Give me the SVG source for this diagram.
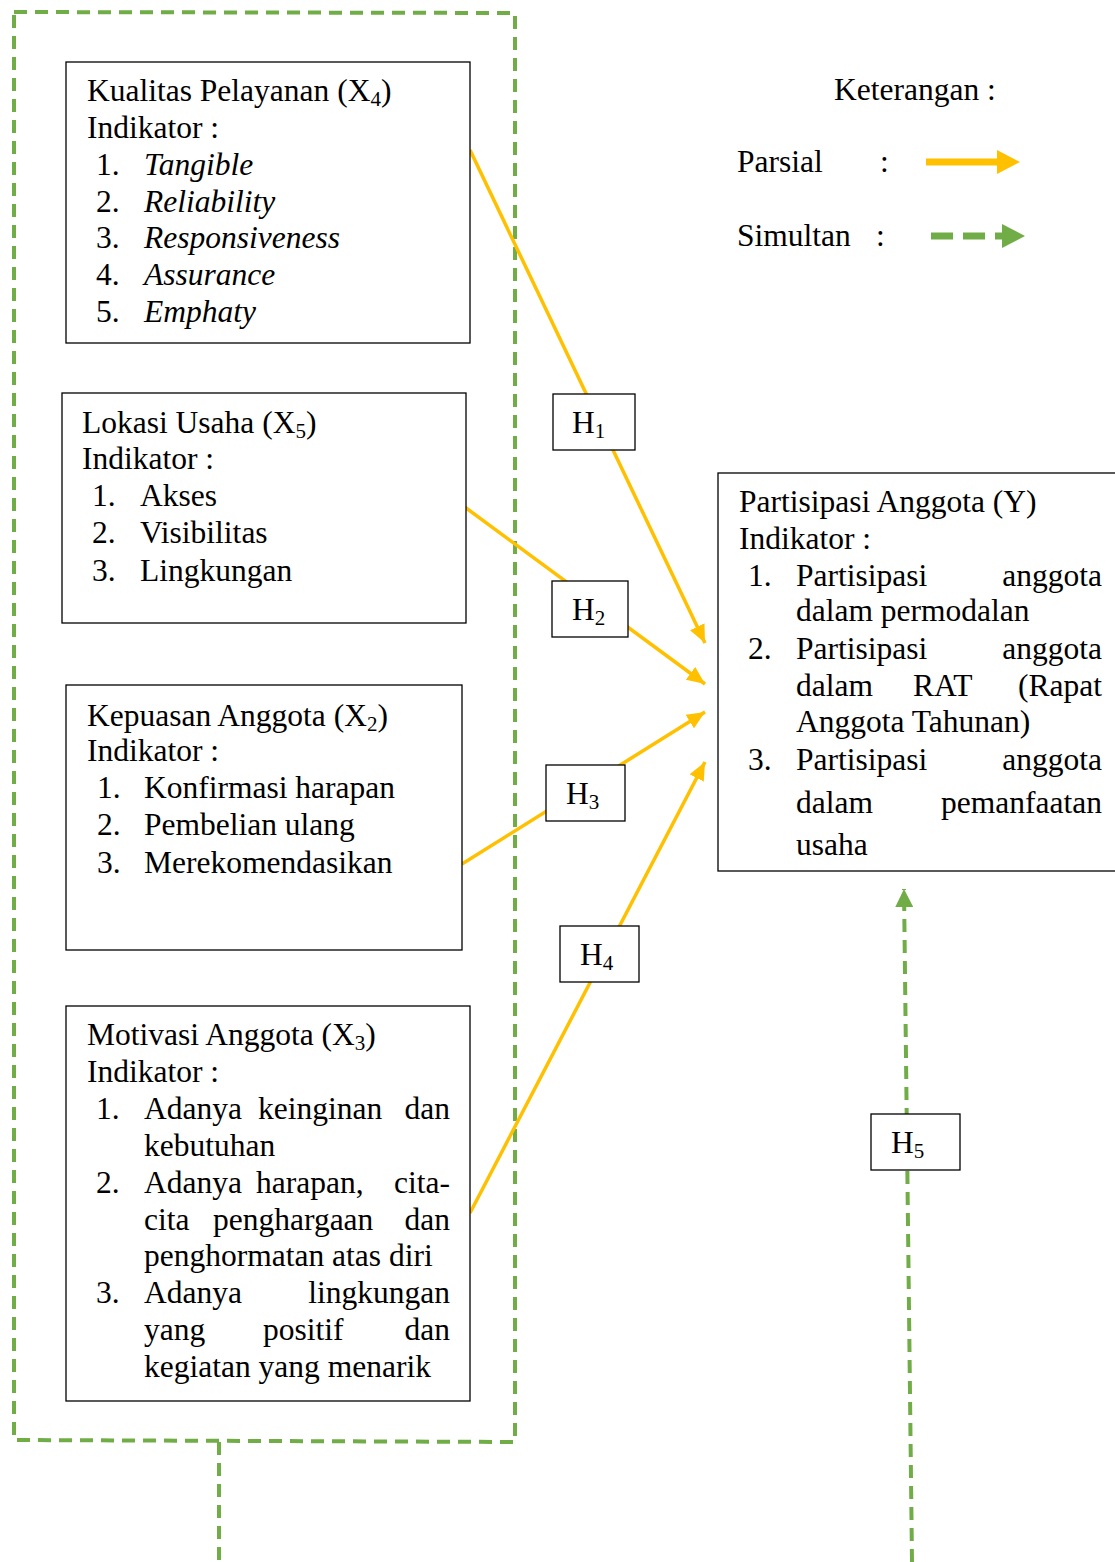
<svg xmlns="http://www.w3.org/2000/svg" width="1115" height="1562" viewBox="0 0 1115 1562">
<style>
text{font-family:"Liberation Serif","Times New Roman",serif;font-size:31.5px;fill:#000}
.i{font-style:italic}
.box{fill:#fff;stroke:#000;stroke-width:1.3}
.or{stroke:#FFC000;stroke-width:3.5;fill:none}
.gr{stroke:#70AD47;stroke-width:4;fill:none;stroke-dasharray:13 8}
.e{text-anchor:end}
.s{font-size:21px}
</style>
<defs>
<marker id="ao" markerUnits="userSpaceOnUse" markerWidth="20" markerHeight="16" refX="18" refY="8" orient="auto"><path d="M0,0 L18,8 L0,16 Z" fill="#FFC000"/></marker>
<marker id="ag" markerUnits="userSpaceOnUse" markerWidth="20" markerHeight="18" refX="18" refY="9" orient="auto"><path d="M0,0 L18,9 L0,18 Z" fill="#70AD47"/></marker>
</defs>
<g id="connectors">
<path class="gr" d="M14,12 L515,13 L515,1442 L14,1440 Z"/>
<path class="gr" d="M219,1442 L219,1562"/>
<path class="gr" d="M912,1562 L904,889" marker-end="url(#ag)"/>
<path class="or" d="M470,150 L705,643" marker-end="url(#ao)"/>
<path class="or" d="M462,505 L705,684" marker-end="url(#ao)"/>
<path class="or" d="M462,864 L705,712" marker-end="url(#ao)"/>
<path class="or" d="M470,1213 L705,762" marker-end="url(#ao)"/>
</g>
<g id="legend">
<text x="834" y="100">Keterangan :</text>
<text x="737" y="172">Parsial</text>
<text x="880" y="172">:</text>
<path d="M926,162 L1000,162" stroke="#FFC000" stroke-width="7"/>
<path d="M997,150 L1020,162 L997,174 Z" fill="#FFC000"/>
<text x="737" y="246">Simultan</text>
<text x="876" y="246">:</text>
<path d="M931,236 L1002,236" stroke="#70AD47" stroke-width="7" stroke-dasharray="22 10"/>
<path d="M1002,224 L1025,236 L1002,248 Z" fill="#70AD47"/>
</g>
<g id="x4">
<rect class="box" x="66" y="62" width="404" height="281"/>
<text x="87" y="101">Kualitas Pelayanan (X<tspan class="s" dy="5">4</tspan><tspan dy="-5">)</tspan></text>
<text x="87" y="138">Indikator :</text>
<text x="96" y="175">1.</text><text x="144" y="175" class="i">Tangible</text>
<text x="96" y="212">2.</text><text x="144" y="212" class="i">Reliability</text>
<text x="96" y="248">3.</text><text x="144" y="248" class="i">Responsiveness</text>
<text x="96" y="285">4.</text><text x="144" y="285" class="i">Assurance</text>
<text x="96" y="322">5.</text><text x="144" y="322" class="i">Emphaty</text>
</g>
<g id="x5">
<rect class="box" x="62" y="393" width="404" height="230"/>
<text x="82" y="433">Lokasi Usaha (X<tspan class="s" dy="5">5</tspan><tspan dy="-5">)</tspan></text>
<text x="82" y="469">Indikator :</text>
<text x="92" y="506">1.</text><text x="140" y="506">Akses</text>
<text x="92" y="543">2.</text><text x="140" y="543">Visibilitas</text>
<text x="92" y="581">3.</text><text x="140" y="581">Lingkungan</text>
</g>
<g id="x2">
<rect class="box" x="66" y="685" width="396" height="265"/>
<text x="87" y="726">Kepuasan Anggota (X<tspan class="s" dy="5">2</tspan><tspan dy="-5">)</tspan></text>
<text x="87" y="761">Indikator :</text>
<text x="97" y="798">1.</text><text x="144" y="798">Konfirmasi harapan</text>
<text x="97" y="835">2.</text><text x="144" y="835">Pembelian ulang</text>
<text x="97" y="873">3.</text><text x="144" y="873">Merekomendasikan</text>
</g>
<g id="x3">
<rect class="box" x="66" y="1006" width="404" height="395"/>
<text x="87" y="1045">Motivasi Anggota (X<tspan class="s" dy="5">3</tspan><tspan dy="-5">)</tspan></text>
<text x="87" y="1082">Indikator :</text>
<text x="96" y="1119">1.</text><text x="144" y="1119">Adanya</text><text x="258" y="1119">keinginan</text><text x="450" y="1119" class="e">dan</text>
<text x="144" y="1156">kebutuhan</text>
<text x="96" y="1193">2.</text><text x="144" y="1193">Adanya</text><text x="256" y="1193">harapan,</text><text x="450" y="1193" class="e">cita-</text>
<text x="144" y="1230">cita</text><text x="213" y="1230">penghargaan</text><text x="450" y="1230" class="e">dan</text>
<text x="144" y="1266">penghormatan atas diri</text>
<text x="96" y="1303">3.</text><text x="144" y="1303">Adanya</text><text x="450" y="1303" class="e">lingkungan</text>
<text x="144" y="1340">yang</text><text x="263" y="1340">positif</text><text x="450" y="1340" class="e">dan</text>
<text x="144" y="1377">kegiatan yang menarik</text>
</g>
<g id="y">
<rect class="box" x="718" y="473" width="410" height="398"/>
<text x="739" y="512">Partisipasi Anggota (Y)</text>
<text x="739" y="549">Indikator :</text>
<text x="748" y="586">1.</text><text x="796" y="586">Partisipasi</text><text x="1102" y="586" class="e">anggota</text>
<text x="796" y="621">dalam permodalan</text>
<text x="748" y="659">2.</text><text x="796" y="659">Partisipasi</text><text x="1102" y="659" class="e">anggota</text>
<text x="796" y="696">dalam</text><text x="913" y="696">RAT</text><text x="1102" y="696" class="e">(Rapat</text>
<text x="796" y="732">Anggota Tahunan)</text>
<text x="748" y="770">3.</text><text x="796" y="770">Partisipasi</text><text x="1102" y="770" class="e">anggota</text>
<text x="796" y="813">dalam</text><text x="1102" y="813" class="e">pemanfaatan</text>
<text x="796" y="855">usaha</text>
</g>
<g id="h1"><rect class="box" x="553" y="394" width="82" height="56"/><text x="572" y="433">H<tspan class="s" dy="5">1</tspan></text></g>
<g id="h2"><rect class="box" x="552" y="581" width="76" height="56"/><text x="572" y="620">H<tspan class="s" dy="5">2</tspan></text></g>
<g id="h3"><rect class="box" x="546" y="765" width="79" height="56"/><text x="566" y="804">H<tspan class="s" dy="5">3</tspan></text></g>
<g id="h4"><rect class="box" x="560" y="926" width="79" height="56"/><text x="580" y="965">H<tspan class="s" dy="5">4</tspan></text></g>
<g id="h5"><rect class="box" x="871" y="1114" width="89" height="56"/><text x="891" y="1153">H<tspan class="s" dy="5">5</tspan></text></g>
</svg>
